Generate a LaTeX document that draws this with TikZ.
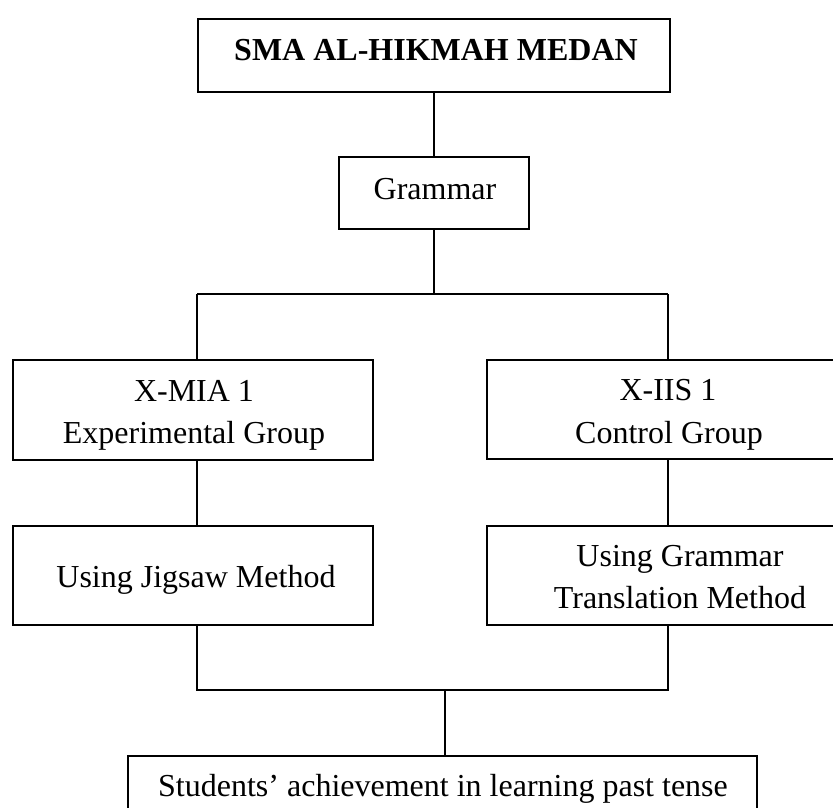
\documentclass[tikz,border=0pt]{standalone}
\usepackage{fontspec}
\setmainfont{Liberation Serif}
\begin{document}
\begin{tikzpicture}[x=1pt,y=-1pt,
  box/.style={draw, line width=1.6pt, rectangle, inner sep=0pt, outer sep=0pt, anchor=north west},
  txt/.style={anchor=base, inner sep=0pt, font=\fontsize{32}{42}\selectfont},
  conn/.style={draw, line width=1.6pt}]
\useasboundingbox (0,0) rectangle (833,808);
\clip (0,0) rectangle (833,808);
% boxes
\node[box, minimum width=472pt, minimum height=73pt] (top) at (198,19) {};
\node[box, minimum width=190pt, minimum height=72pt] (gram) at (339,157) {};
\node[box, minimum width=360pt, minimum height=100pt] (exp) at (13,360) {};
\node[box, minimum width=380pt, minimum height=99pt] (ctl) at (487,360) {};
\node[box, minimum width=360pt, minimum height=99pt] (jig) at (13,526) {};
\node[box, minimum width=380pt, minimum height=99pt] (gtm) at (487,526) {};
\node[box, minimum width=629pt, minimum height=62pt] (ach) at (128,756) {};
% texts
\node[txt, font=\fontsize{32}{42}\selectfont\bfseries] (topT) at (436,61) {SMA AL-HIKMAH MEDAN};
\node[txt] (gramT) at (435,199) {Grammar};
\node[txt] (expT1) at (194,401) {X-MIA 1};
\node[txt] (expT2) at (194,443) {Experimental Group};
\node[txt] (ctlT1) at (668,400) {X-IIS 1};
\node[txt] (ctlT2) at (669,443) {Control Group};
\node[txt] (jigT) at (196,587) {Using Jigsaw Method};
\node[txt] (gtmT1) at (680,566) {Using Grammar};
\node[txt] (gtmT2) at (680,608) {Translation Method};
\node[txt] (achT) at (443,796) {Students’ achievement in learning past tense};
% junction points
\coordinate (split) at (434,294);
\coordinate (jl) at (197,294);
\coordinate (jr) at (668,294);
\coordinate (ml) at (197,690);
\coordinate (mr) at (668,690);
\coordinate (mb) at (445,690);
% connectors
\draw[conn] (top.south) -- (gram.north);
\draw[conn] (gram.south) -- (gram.south |- split);
\draw[conn] (jl) -- (jr);
\draw[conn] (jl) -- (jl |- exp.north);
\draw[conn] (jr) -- (jr |- ctl.north);
\draw[conn] (jl |- exp.south) -- (jl |- jig.north);
\draw[conn] (jr |- ctl.south) -- (jr |- gtm.north);
\draw[conn] (ml |- jig.south) -- (ml) -- (mr) -- (mr |- gtm.south);
\draw[conn] (mb) -- (mb |- ach.north);
\end{tikzpicture}
\end{document}
